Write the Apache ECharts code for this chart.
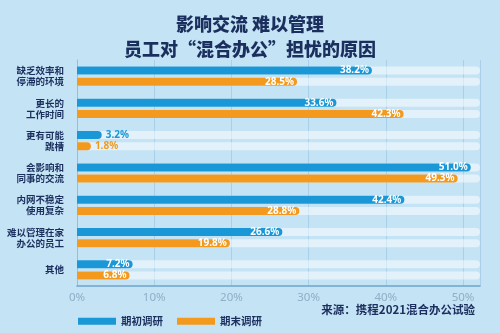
<!DOCTYPE html>
<html><head><meta charset="utf-8">
<script src="https://cdn.jsdelivr.net/npm/echarts@6/dist/echarts.min.js"></script>
<style>html,body{margin:0;padding:0;background:#c4e3f4;}#c{width:500px;height:333px;}</style>
</head><body><div id="c"></div>
<script>
const categories = ['缺乏效率和\n停滞的环境','更长的\n工作时间','更有可能\n跳槽','会影响和\n同事的交流','内网不稳定\n使用复杂','难以管理在家\n办公的员工','其他'];
const seriesNames = ['期初调研','期末调研'];
const startValues = [38.2, 33.6, 3.2, 51.0, 42.4, 26.6, 7.2];
const endValues = [28.5, 42.3, 1.8, 49.3, 28.8, 19.8, 6.8];
const xTicks = [0, 10, 20, 30, 40, 50];
const titleText = '影响交流 难以管理\n员工对“混合办公”担忧的原因';
const sourceText = '来源：携程2021混合办公试验';

const navy = '#1b2f5e';
const blue = '#1a97d6';
const orange = '#f39a1e';

function mk(vals, color){
  return vals.map(v => v < 5 ? {value: v, label: {position: 'right', color: color, distance: 4}} : {value: v});
}
const chart = echarts.init(document.getElementById('c'), null, {renderer: 'canvas'});
chart.setOption({
  backgroundColor: '#c4e3f4',
  animation: false,
  title: {text: titleText, left: 'center', top: 7,
    textStyle: {fontFamily: 'Noto Sans CJK SC', fontWeight: 900, fontSize: 18, lineHeight: 25, color: navy}},
  grid: {left: 77, right: 20, top: 60, bottom: 47, containLabel: false},
  legend: {left: 73, top: 311, itemWidth: 38, itemHeight: 7, itemGap: 14, icon: 'rect',
    textStyle: {fontFamily: 'Noto Sans CJK SC', fontWeight: 'bold', fontSize: 10.5, color: navy}, data: seriesNames},
  xAxis: {type: 'value', min: 0, max: 52.2, interval: 10,
    axisLine: {show: true, lineStyle: {color: '#6ea5cc', width: 1.5}},
    axisTick: {show: false},
    splitLine: {show: true, lineStyle: {color: '#a9d0e8', width: 1}},
    axisLabel: {color: '#8eafc6', fontSize: 11.5, fontFamily: 'Noto Sans', margin: 6,
      formatter: v => xTicks.includes(v) ? v + '%' : ''}},
  yAxis: {type: 'category', data: categories, inverse: true,
    axisLine: {show: true, lineStyle: {color: '#93bfdc'}},
    axisTick: {show: false},
    axisLabel: {fontFamily: 'Noto Sans CJK SC', fontWeight: 'bold', fontSize: 9.5, lineHeight: 11, color: navy, margin: 13, align: 'right'}},
  series: [
    {name: seriesNames[0], type: 'bar', data: mk(startValues, blue), barWidth: 8, barGap: '40%',
      itemStyle: {color: blue, borderRadius: [0, 4, 4, 0]},
      showBackground: true, backgroundStyle: {color: 'rgba(255,255,255,0.5)', borderRadius: [0, 4, 4, 0]},
      label: {show: true, position: 'insideRight', distance: 3, color: '#fff', fontSize: 10, fontWeight: 'bold', fontFamily: 'Noto Sans',
        formatter: p => p.value.toFixed(1) + '%'}},
    {name: seriesNames[1], type: 'bar', data: mk(endValues, orange), barWidth: 8,
      itemStyle: {color: orange, borderRadius: [0, 4, 4, 0]},
      showBackground: true, backgroundStyle: {color: 'rgba(255,255,255,0.5)', borderRadius: [0, 4, 4, 0]},
      label: {show: true, position: 'insideRight', distance: 3, color: '#fff', fontSize: 10, fontWeight: 'bold', fontFamily: 'Noto Sans',
        formatter: p => p.value.toFixed(1) + '%'}}
  ],
  graphic: [{type: 'text', right: 25, top: 304,
    style: {text: sourceText, fontFamily: 'Noto Sans CJK SC', fontWeight: 'bold', fontSize: 11.5, fill: navy}}]
});
</script></body></html>
